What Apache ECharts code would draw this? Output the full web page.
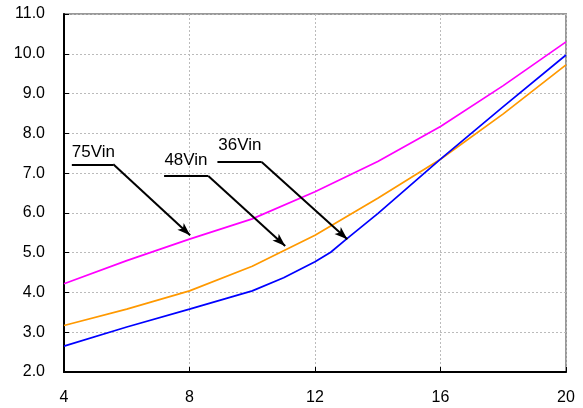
<!DOCTYPE html>
<html><head><meta charset="utf-8">
<script src="https://cdn.jsdelivr.net/npm/echarts@6/dist/echarts.min.js"></script>
<style>html,body{margin:0;padding:0;background:#fff}#c{width:583px;height:408px}</style>
</head><body><div id="c"></div>
<script>
const xTicks = [4, 8, 12, 16, 20];
const yTicks = [2, 3, 4, 5, 6, 7, 8, 9, 10, 11];
const vin36X = [4, 6, 8, 10, 11, 12, 12.5, 13, 14, 16, 18, 20];
const vin36Y = [2.65, 3.13, 3.58, 4.04, 4.37, 4.77, 5.01, 5.34, 5.98, 7.35, 8.67, 9.97];
const vin48X = [4, 6, 8, 10, 12, 14, 16, 18, 20];
const vin48Y = [3.17, 3.58, 4.04, 4.66, 5.44, 6.37, 7.35, 8.49, 9.72];
const vin75X = [4, 6, 8, 10, 12, 14, 16, 18, 20];
const vin75Y = [4.22, 4.80, 5.34, 5.85, 6.53, 7.29, 8.17, 9.20, 10.30];
const labelNames = ['75Vin', '48Vin', '36Vin'];
const labelPos = [[4.25, 7.53], [7.20, 7.31], [8.92, 7.71]];
const underlineStart = [[4.25, 7.22], [7.19, 6.93], [8.89, 7.28]];
const underlineEnd = [[5.57, 7.22], [8.60, 6.93], [10.30, 7.28]];
const arrowTip = [[8.02, 5.44], [11.05, 5.17], [13.03, 5.34]];

const zip = (xs, ys) => xs.map((x, i) => [x, ys[i]]);
const chart = echarts.init(document.getElementById('c'));
const FONT = '"Liberation Sans", Arial, sans-serif';
const lineSeries = (name, data, color) => ({
  name, type: 'line', data, symbol: 'none', smooth: false,
  lineStyle: { color, width: 1.7 }, z: 3, animation: false
});
const underlines = underlineStart.map((s, i) => [
  { coord: s, symbol: 'none' }, { coord: underlineEnd[i], symbol: 'none' }
]);
const arrows = underlineEnd.map((s, i) => [
  { coord: s, symbol: 'none' }, { coord: arrowTip[i], symbol: 'arrow', symbolSize: [7, 13] }
]);
chart.setOption({
  animation: false,
  grid: { left: 64, right: 17, top: 14, bottom: 36, show: true, borderColor: '#999', borderWidth: 2, backgroundColor: 'transparent' },
  xAxis: {
    type: 'value', min: 4, max: 20, interval: 4,
    axisLine: { show: true, lineStyle: { color: '#000', width: 2 } },
    axisTick: { show: true, inside: true, length: 5, lineStyle: { color: '#000', width: 1 } },
    axisLabel: { color: '#000', fontSize: 16, fontFamily: FONT, margin: 18,
      formatter: v => xTicks.includes(v) ? String(v) : '' },
    splitLine: { show: true, lineStyle: { color: '#bbb', type: [2, 2], width: 1 } }
  },
  yAxis: {
    type: 'value', min: 2, max: 11, interval: 1,
    axisLine: { show: true, lineStyle: { color: '#000', width: 2 } },
    axisTick: { show: true, inside: true, length: 5, lineStyle: { color: '#000', width: 1 } },
    axisLabel: { color: '#000', fontSize: 16, fontFamily: FONT, margin: 19,
      formatter: v => yTicks.includes(v) ? v.toFixed(1) : '' },
    splitLine: { show: true, lineStyle: { color: '#bbb', type: [2, 2], width: 1 } }
  },
  series: [
    lineSeries('75Vin', zip(vin75X, vin75Y), '#ff00ff'),
    lineSeries('48Vin', zip(vin48X, vin48Y), '#ff9900'),
    lineSeries('36Vin', zip(vin36X, vin36Y), '#0000ff'),
    {
      type: 'scatter', data: labelPos.map((p, i) => ({ value: p, name: labelNames[i] })),
      symbolSize: 0, z: 5, silent: true,
      itemStyle: { opacity: 1 },
      label: { show: true, position: 'right', distance: 0, formatter: p => p.name,
        color: '#000', opacity: 1, textBorderWidth: 0, fontSize: 17, fontFamily: FONT },
      markLine: {
        silent: true, animation: false,
        lineStyle: { color: '#000', width: 2, type: 'solid' },
        label: { show: false },
        emphasis: { disabled: true },
        data: underlines.concat(arrows)
      }
    }
  ]
});
</script></body></html>
